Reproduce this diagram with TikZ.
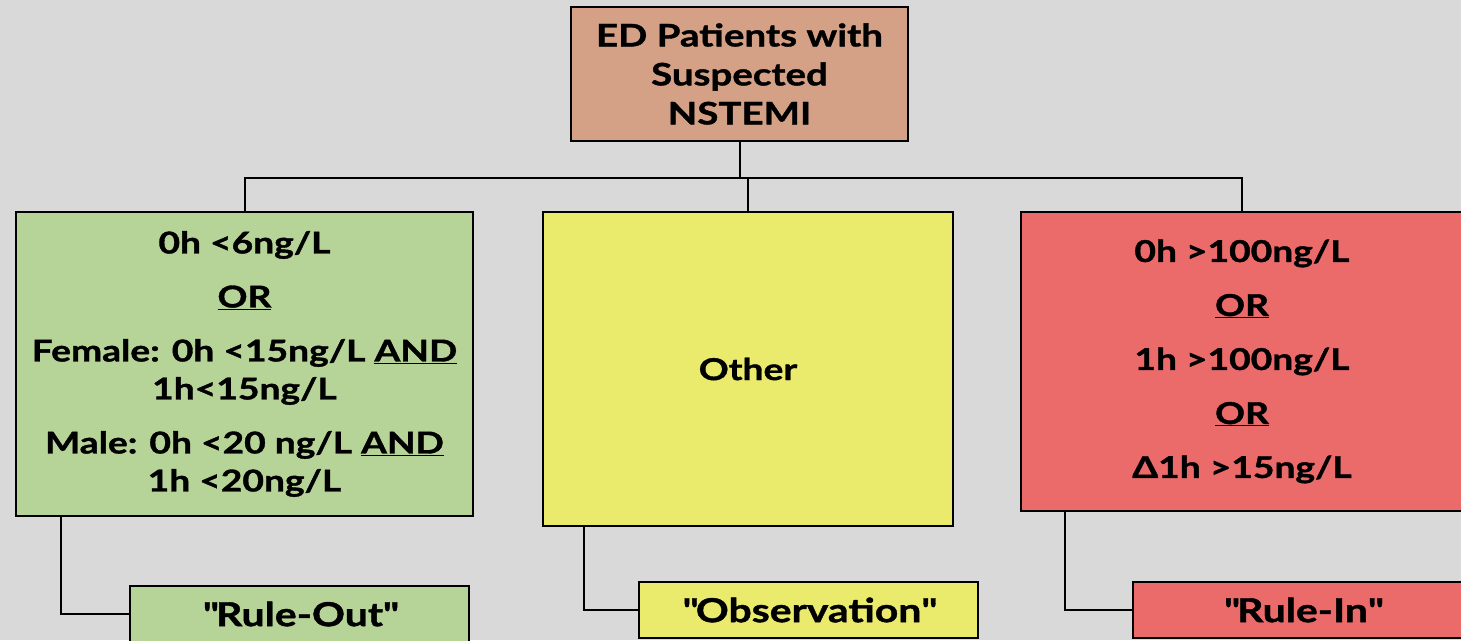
\documentclass[tikz,border=0pt]{standalone}
\usepackage{fontspec}
\setmainfont{Lato}[BoldFeatures={FakeStretch=1.24, FakeBold=1.2}]
\definecolor{bgc}{HTML}{D9D9D9}
\definecolor{tanc}{HTML}{D4A086}
\definecolor{greenc}{HTML}{B6D498}
\definecolor{yellowc}{HTML}{EAEB6C}
\definecolor{redc}{HTML}{EB6B6B}
\tikzset{
  box/.style={draw=black, line width=2pt, align=center, inner sep=0pt,
    font=\bfseries\fontsize{30}{38}\selectfont},
  rulebox/.style={box, minimum width=339pt, minimum height=56pt,
    font=\bfseries\fontsize{33}{38}\selectfont},
  conn/.style={draw=black, line width=2pt},
}
\begin{document}
\begin{tikzpicture}[x=1pt,y=-1pt]
\useasboundingbox (0,0) rectangle (1461,640);
\clip (0,0) rectangle (1461,640);
\fill[bgc] (0,0) rectangle (1461,640);
% top
\node[box, fill=tanc, minimum width=337pt, minimum height=134pt, font=\bfseries\fontsize{31}{39}\selectfont] (top) at (739.5,74) {ED Patients with\\ Suspected\\ NSTEMI};
% level 2
\node[box, fill=greenc, minimum width=457pt, minimum height=304pt] (left) at (244.5,364)
 {0h <6ng/L\\[16pt] \underline{OR}\\[16pt] Female: 0h <15ng/L \underline{AND}\\ 1h<15ng/L\\[16pt] Male: 0h <20 ng/L \underline{AND}\\ 1h <20ng/L};
\node[box, fill=yellowc, minimum width=410pt, minimum height=314pt] (mid) at (748,369) {Other};
\node[box, fill=redc, minimum width=442pt, minimum height=299pt] (right) at (1242,361.5)
 {0h >100ng/L\\[16pt] \underline{OR}\\[16pt] 1h >100ng/L\\[16pt] \underline{OR}\\[16pt] Δ1h >15ng/L};
% level 3
\node[rulebox, fill=greenc] (ruleout) at (299.5,614) {\textquotedbl Rule-Out\textquotedbl};
\node[rulebox, fill=yellowc] (obs) at (808.5,610) {\textquotedbl Observation\textquotedbl};
\node[rulebox, fill=redc] (rulein) at (1302.5,610) {\textquotedbl Rule-In\textquotedbl};
% connectors
\path (top.south) ++(0,36) coordinate (bus);
\draw[conn] (top.south) -- (bus);
\draw[conn] (left.north) -- (left.north |- bus) -- (right.north |- bus) -- (right.north);
\draw[conn] (mid.north) -- (mid.north |- bus);
\draw[conn] ([xshift=46pt]left.south west) |- (ruleout.west);
\draw[conn] ([xshift=42pt]mid.south west) |- (obs.west);
\draw[conn] ([xshift=45pt]right.south west) |- (rulein.west);
\end{tikzpicture}
\end{document}
